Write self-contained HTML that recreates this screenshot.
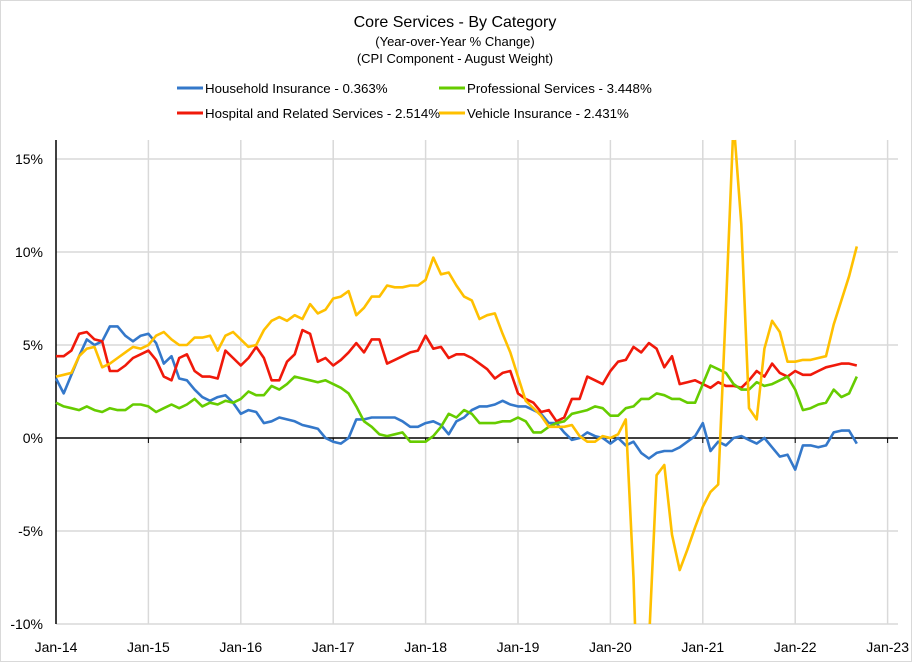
<!DOCTYPE html>
<html><head><meta charset="utf-8">
<style>
html,body{margin:0;padding:0;background:#fff;overflow:hidden;width:912px;height:662px;}
#wrap{position:relative;width:912px;height:662px;overflow:hidden;font-family:"Liberation Sans",sans-serif;}
#chart{display:block;}
svg text{font-family:"Liberation Sans",sans-serif;fill:#000;}
</style></head>
<body>
<div id="wrap">
<svg id="chart" width="912" height="662" viewBox="0 0 912 662">
  <rect x="0.5" y="0.5" width="911" height="661" fill="#fff" stroke="#d9d9d9"/>
  <text x="455" y="27" font-size="16" text-anchor="middle">Core Services  - By Category</text>
  <text x="455" y="46" font-size="13" text-anchor="middle">(Year-over-Year % Change)</text>
  <text x="455" y="63" font-size="13" text-anchor="middle">(CPI Component - August Weight)</text>
  <g>
    <g>
      <line x1="177" y1="88" x2="203" y2="88" stroke="#3478CA" stroke-width="3"/>
      <text x="205" y="93" font-size="13.3">Household Insurance - 0.363%</text>
    </g>
    <g>
      <line x1="439" y1="88" x2="465" y2="88" stroke="#66CC00" stroke-width="3"/>
      <text x="467" y="93" font-size="13.3">Professional Services - 3.448%</text>
    </g>
    <g>
      <line x1="177" y1="113" x2="203" y2="113" stroke="#F0190A" stroke-width="3"/>
      <text x="205" y="118" font-size="13.3">Hospital and Related Services - 2.514%</text>
    </g>
    <g>
      <line x1="439" y1="113" x2="465" y2="113" stroke="#FFC000" stroke-width="3"/>
      <text x="467" y="118" font-size="13.3">Vehicle Insurance - 2.431%</text>
    </g>
  </g>
  <g id="grid"></g>
  <g id="axes"></g>
  <g id="series"></g>
</svg>
</div>
<script>
const yTicks = [15, 10, 5, 0, -5, -10];
const yTickLabels = ["15%", "10%", "5%", "0%", "-5%", "-10%"];
const xTickLabels = ["Jan-14","Jan-15","Jan-16","Jan-17","Jan-18","Jan-19","Jan-20","Jan-21","Jan-22","Jan-23"];
const household = [3.2,2.4,3.4,4.4,5.3,5.0,5.2,6.0,6.0,5.5,5.2,5.5,5.6,5.1,4.0,4.4,3.2,3.1,2.6,2.2,2.0,2.2,2.3,1.9,1.3,1.5,1.4,0.8,0.9,1.1,1.0,0.9,0.7,0.6,0.5,0.0,-0.2,-0.3,
0.0,1.0,1.0,1.1,1.1,1.1,1.1,0.9,0.6,0.6,0.8,0.9,0.7,0.2,0.9,1.1,1.5,1.7,1.7,1.8,2.0,1.8,1.7,1.7,1.5,1.3,0.8,0.8,0.3,-0.1,0.0,0.3,0.1,
0.0,-0.3,0.0,-0.4,-0.2,-0.8,-1.1,-0.8,-0.7,-0.7,-0.5,-0.2,0.1,0.8,-0.7,-0.2,-0.4,0.0,0.1,-0.1,-0.3,0.0,-0.5,-1.0,-0.9,-1.7,-0.4,-0.4,-0.5,-0.4,0.3,0.4,0.4,-0.3];
const hospital = [4.4,4.4,4.7,5.6,5.7,5.3,5.2,3.6,3.6,3.9,4.3,4.5,4.7,4.2,3.3,3.1,4.3,4.5,3.6,3.3,3.3,3.2,4.7,4.3,3.9,4.3,4.9,4.3,3.1,3.1,4.1,4.5,5.8,5.6,4.1,4.3,3.9,4.2,
4.6,5.1,4.6,5.3,5.3,4.0,4.2,4.4,4.6,4.7,5.5,4.8,4.9,4.3,4.5,4.5,4.3,4.0,3.7,3.2,3.5,3.6,2.4,2.1,1.9,1.4,1.5,0.9,1.1,2.1,2.1,3.3,3.1,
2.9,3.6,4.1,4.2,4.9,4.6,5.1,4.8,3.8,4.4,2.9,3.0,3.1,2.9,2.7,3.0,2.8,2.8,2.7,3.1,3.6,3.3,4.0,3.5,3.3,3.6,3.4,3.4,3.6,3.8,3.9,4.0,4.0,3.9];
const professional = [1.9,1.7,1.6,1.5,1.7,1.5,1.4,1.6,1.5,1.5,1.8,1.8,1.7,1.4,1.6,1.8,1.6,1.8,2.1,1.7,1.9,1.8,2.0,1.9,2.1,2.5,2.3,2.3,2.8,2.6,2.9,3.3,3.2,3.1,3.0,3.1,2.9,2.7,
2.4,1.7,0.9,0.6,0.2,0.1,0.2,0.3,-0.2,-0.2,-0.2,0.1,0.6,1.3,1.1,1.5,1.3,0.8,0.8,0.8,0.9,0.9,1.1,0.9,0.3,0.3,0.6,0.8,0.9,1.3,1.4,1.5,1.7,
1.6,1.2,1.2,1.6,1.7,2.1,2.1,2.4,2.3,2.1,2.1,1.9,1.9,2.9,3.9,3.7,3.5,2.9,2.6,2.6,3.0,2.8,2.9,3.1,3.3,2.6,1.5,1.6,1.8,1.9,2.6,2.2,2.4,3.3];
const vehicle = [3.3,3.4,3.5,4.4,4.8,4.9,3.8,4.0,4.3,4.6,4.9,4.8,5.0,5.5,5.7,5.3,5.0,5.0,5.4,5.4,5.5,4.7,5.5,5.7,5.3,4.9,5.0,5.8,6.3,6.5,6.3,6.6,6.4,7.2,6.7,6.9,7.5,7.6,
7.9,6.6,7.0,7.6,7.6,8.2,8.1,8.1,8.2,8.2,8.5,9.7,8.8,8.9,8.2,7.6,7.4,6.4,6.6,6.7,5.6,4.6,3.3,2.0,1.6,1.2,0.6,0.6,0.6,0.7,0.1,-0.2,-0.2,
0.1,0.0,0.2,1.0,-7.5,-20,-11,-2.0,-1.45,-5.2,-7.1,-6.0,-4.8,-3.7,-2.9,-2.5,7,17,11.5,1.6,1.0,4.8,6.3,5.7,4.1,4.1,4.2,4.2,4.3,4.4,6.1,7.4,8.7,10.3];
const seriesNames = ["household","hospital","professional","vehicle"];
const seriesColors = ["#3478CA","#F0190A","#66CC00","#FFC000"];

const NS = "http://www.w3.org/2000/svg";
const X0 = 56, XMONTH = 7.7, Y0 = 438, YPER = 18.6, PLOT_L = 56, PLOT_R = 898, PLOT_T = 140, PLOT_B = 624;
function xScale(m){ return X0 + m * XMONTH; }
function yScale(v){ return Y0 - v * YPER; }
function mk(tag, attrs){ const e = document.createElementNS(NS, tag); for (const k in attrs) e.setAttribute(k, attrs[k]); return e; }

const grid = document.getElementById('grid');
const axes = document.getElementById('axes');
const series = document.getElementById('series');

yTicks.forEach((t, i) => {
  const y = yScale(t);
  if (t !== 0) {
    const gl = mk('line', {x1: PLOT_L, x2: PLOT_R, y1: y, y2: y, stroke: '#d9d9d9', 'stroke-width': 1.5});
    
    
    grid.appendChild(gl);
  }
  const lb = mk('text', {x: 43, y: y + 5, 'font-size': 14, 'text-anchor': 'end'});
  lb.textContent = yTickLabels[i];
  
  
  axes.appendChild(lb);
});
xTickLabels.forEach((lab, i) => {
  const x = xScale(i * 12);
  if (i > 0) {
    const gl = mk('line', {x1: x, x2: x, y1: PLOT_T, y2: PLOT_B, stroke: '#d9d9d9', 'stroke-width': 1.5});
    
    
    grid.appendChild(gl);
    const tk = mk('line', {x1: x, x2: x, y1: Y0, y2: Y0 + 5, stroke: '#000', 'stroke-width': 1});
    
    
    axes.appendChild(tk);
  }
  const lb = mk('text', {x: x, y: 652, 'font-size': 14, 'text-anchor': 'middle'});
  lb.textContent = lab;
  
  
  axes.appendChild(lb);
});
const yAxis = mk('line', {x1: PLOT_L, x2: PLOT_L, y1: PLOT_T, y2: PLOT_B, stroke: '#000', 'stroke-width': 1.5});


axes.appendChild(yAxis);
const zero = mk('line', {x1: PLOT_L, x2: PLOT_R, y1: Y0, y2: Y0, stroke: '#000', 'stroke-width': 1.5});


axes.appendChild(zero);

// clip a segment to the vertical plot range; returns null or [x1,y1,x2,y2]
function clipSeg(x1, y1, x2, y2) {
  let t0 = 0, t1 = 1;
  const dy = y2 - y1;
  const checks = [[-dy, y1 - PLOT_T], [dy, PLOT_B - y1]];
  for (const [p, q] of checks) {
    if (p === 0) { if (q < 0) return null; continue; }
    const r = q / p;
    if (p < 0) { if (r > t1) return null; if (r > t0) t0 = r; }
    else { if (r < t0) return null; if (r < t1) t1 = r; }
  }
  return [x1 + t0 * (x2 - x1), y1 + t0 * dy, x1 + t1 * (x2 - x1), y1 + t1 * dy];
}

[household, hospital, professional, vehicle].forEach((arr, si) => {
  const runs = [];
  let cur = null;
  for (let m = 0; m < arr.length - 1; m++) {
    const s = clipSeg(xScale(m), yScale(arr[m]), xScale(m + 1), yScale(arr[m + 1]));
    if (!s) { cur = null; continue; }
    const startP = s[0].toFixed(1) + ',' + s[1].toFixed(1);
    const endP = s[2].toFixed(1) + ',' + s[3].toFixed(1);
    if (cur && cur[cur.length - 1] === startP) { cur.push(endP); }
    else { cur = [startP, endP]; runs.push(cur); }
  }
  runs.forEach(r => {
    const pl = mk('polyline', {points: r.join(' '), fill: 'none', stroke: seriesColors[si], 'stroke-width': 2.6, 'stroke-linejoin': 'round'});
    
    
    series.appendChild(pl);
  });
});
</script>
</body></html>
